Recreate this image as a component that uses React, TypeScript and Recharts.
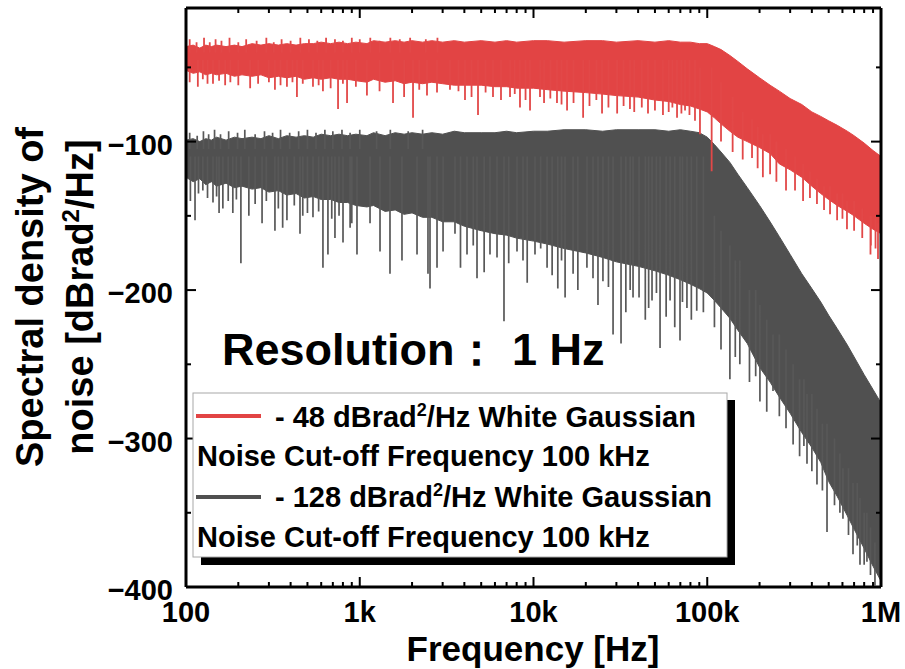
import React from 'react';
import { ComposedChart, Area, Line, XAxis, YAxis } from 'recharts';

const FONT = '"Liberation Sans", Arial, Helvetica, sans-serif';
const RED = '#E24444';
const GRAY = '#505050';

// Frequencies (Hz) at which the band envelopes were read
const bandFreq = [
  100, 110, 120, 130, 140, 150, 170, 190, 210, 240, 270, 300, 340, 380, 430, 480, 540, 600, 680, 760, 850, 950,
  1100, 1200, 1400, 1600, 1800, 2000, 2300, 2600, 3000, 3500, 4000, 5000, 6000, 7000, 8000, 10000, 12000, 15000,
  20000, 25000, 30000, 40000, 50000, 60000, 70000, 80000, 90000, 100000, 110000, 120000, 135000, 150000, 170000,
  200000, 230000, 260000, 300000, 350000, 400000, 450000, 500000, 560000, 640000, 700000, 800000, 900000, 1000000,
];

// -48 dBrad^2/Hz series: upper edge and lower edge of the dense band
const redTop = [
  -36, -35, -37, -35, -36, -35, -36, -35, -36, -34, -35, -34, -35, -34, -35, -34, -34, -33, -34, -33, -34, -33,
  -34, -32, -33, -32, -33, -32, -33, -32, -33, -32, -33, -32, -33, -32, -33, -32, -32, -33, -32, -32, -33, -32,
  -33, -32, -33, -33, -34,
  -34, -36, -38, -42, -46, -51, -57, -62, -66, -71, -75, -80, -83, -86, -89, -93, -96, -101, -106, -110,
];
const redBottom = [
  -52, -54, -53, -55, -54, -55, -54, -56, -55, -56, -55, -57, -56, -57, -56, -58, -57, -58, -57, -58, -58, -59,
  -60, -58, -60, -59, -61, -60, -61, -60, -61, -62, -62, -62, -63, -63, -64, -64, -65, -66, -67, -68, -69, -70,
  -72, -73, -75, -76, -78,
  -80, -84, -88, -93, -97, -100, -104, -108, -115, -119, -124, -130, -135, -139, -143, -147, -150, -155, -159, -162,
];

// -128 dBrad^2/Hz series: upper edge and lower edge of the dense band
const grayTop = [
  -99, -98, -100, -98, -99, -97, -99, -97, -98, -97, -98, -96, -98, -96, -97, -96, -97, -95, -96, -95, -96, -95,
  -96, -94, -96, -94, -95, -94, -95, -94, -95, -93, -94, -94, -94, -93, -94, -93, -93, -92, -92, -93, -92, -92,
  -92, -93, -92, -93, -94,
  -97, -102, -107, -114, -122, -131, -143, -154, -164, -176, -189, -199, -208, -217, -226, -237, -245, -257, -267,
  -276,
];
const grayBottom = [
  -124, -127, -125, -129, -127, -130, -128, -131, -130, -132, -131, -134, -133, -136, -135, -138, -137, -139, -139,
  -141, -141, -143,
  -144, -143, -147, -146, -149, -148, -151, -151, -154, -154, -157, -160, -162, -163, -165, -167, -169, -172, -175,
  -178, -181, -184, -187, -190, -193, -196, -199,
  -202, -207, -212, -219, -227, -236, -252, -262, -272, -283, -296, -306, -316, -329, -339, -352, -361, -374, -386,
  -396,
];

// Spikes: [frequency, value inside band, spike tip]
const redSpikes = [
  // upward peaks at low frequency
  [105, -40, -31], [115, -40, -33], [127, -40, -30], [137, -40, -33], [148, -40, -31], [160, -40, -32],
  [178, -40, -30], [200, -40, -33], [222, -40, -31], [255, -40, -32], [290, -40, -30], [320, -40, -33],
  [355, -40, -31], [400, -40, -32], [455, -40, -30], [510, -40, -31], [570, -40, -32], [640, -40, -30],
  [720, -40, -31], [800, -40, -32], [900, -40, -30], [1000, -40, -31], [1150, -40, -30], [1300, -40, -32],
  [1500, -40, -30], [1700, -40, -31], [1950, -40, -30], [2400, -40, -31], [2800, -40, -30],
  // downward spikes
  [105, -45, -60], [117, -45, -63], [125, -45, -58], [133, -45, -61], [143, -45, -61], [155, -45, -59],
  [168, -45, -62], [180, -45, -60], [200, -45, -62], [234, -45, -64], [260, -45, -61], [300, -45, -60],
  [325, -45, -65], [350, -45, -62], [381, -45, -63], [410, -45, -60], [435, -45, -70], [470, -45, -61],
  [538, -45, -63], [580, -45, -62], [614, -45, -66], [680, -45, -64], [750, -45, -78], [800, -45, -61],
  [845, -45, -74], [950, -45, -63], [1100, -45, -69],
  [1300, -45, -66], [1554, -45, -74], [1800, -45, -70], [2026, -45, -84], [2200, -45, -65], [2438, -45, -69],
  [2784, -45, -67], [3306, -45, -65], [3700, -45, -66], [4034, -45, -72], [4400, -45, -70], [4793, -45, -82],
  [5300, -45, -67], [5846, -45, -70], [6500, -45, -72], [7326, -45, -70], [7800, -45, -68], [8360, -45, -77],
  [9000, -45, -72], [9550, -45, -79], [10900, -45, -70], [11500, -45, -74], [12500, -45, -71], [13650, -45, -74],
  [14500, -45, -75], [15600, -45, -79], [17000, -45, -74], [19300, -45, -84], [21000, -45, -76], [23000, -45, -72],
  [24800, -45, -81], [27000, -45, -77], [30300, -45, -81], [33000, -45, -76], [35900, -45, -78], [38000, -45, -80],
  [42000, -45, -77], [45600, -45, -81], [50000, -45, -79], [55600, -45, -82], [60000, -45, -80], [63000, -45, -77],
  [67000, -45, -84], [71000, -45, -81], [74500, -45, -79], [79000, -45, -82], [85000, -45, -86], [90800, -50, -95],
  [106000, -50, -120], [120000, -60, -100], [140000, -70, -107], [160000, -80, -112], [181000, -85, -111],
  [195000, -90, -118], [209000, -95, -124], [230000, -95, -122], [250000, -100, -127], [284000, -105, -133],
  [320000, -110, -133], [356000, -115, -140], [390000, -120, -138], [428000, -125, -142], [470000, -130, -146],
  [509000, -130, -149], [559000, -135, -153], [600000, -135, -152], [637000, -140, -159], [700000, -140, -160],
  [780000, -145, -165], [870000, -150, -176], [875000, -150, -170], [930000, -150, -172], [961000, -155, -179],
];
const graySpikes = [
  // upward peaks at low frequency
  [105, -105, -94], [116, -105, -96], [126, -105, -93], [135, -105, -95], [146, -105, -92], [158, -105, -95],
  [176, -105, -93], [198, -105, -94], [218, -105, -92], [250, -105, -95], [283, -105, -93], [315, -105, -94],
  [350, -105, -92], [395, -105, -94], [445, -105, -93], [500, -105, -92], [560, -105, -94], [630, -105, -92],
  [700, -105, -93], [790, -105, -92], [880, -105, -94], [1000, -105, -92], [1250, -105, -93], [1500, -105, -92],
  [1900, -105, -93], [2300, -105, -92],
  // downward spikes
  [106, -110, -140], [112.7, -110, -153], [118, -110, -135], [125, -110, -133], [133, -110, -138], [143, -110, -141],
  [150, -110, -137], [155, -110, -148], [163, -110, -145], [175, -110, -140], [186, -110, -148], [195, -110, -139],
  [207, -110, -182], [230, -110, -150], [250, -110, -142], [274, -110, -155], [290, -110, -140], [325, -110, -160],
  [340, -110, -145], [360, -110, -158], [381, -110, -153], [420, -110, -143], [453, -110, -162], [470, -110, -150],
  [500, -110, -148], [538, -110, -151], [580, -110, -147], [614, -110, -185], [656, -110, -176], [690, -110, -152],
  [720, -110, -165], [760, -110, -150], [801, -110, -168], [880, -110, -158], [900, -110, -155], [964, -110, -176],
  [1146, -110, -155], [1308, -110, -174], [1493, -110, -189],
  [1750, -110, -180], [2136, -110, -176], [2470, -110, -189], [2537, -110, -199], [2784, -110, -185], [3016, -110, -174],
  [3533, -110, -162], [3800, -110, -185], [4143, -110, -176], [4500, -110, -170], [4730, -110, -192], [5200, -110, -188],
  [5618, -110, -176], [6166, -110, -178], [6763, -110, -221], [7200, -110, -182], [8036, -110, -174], [8700, -110, -180],
  [9200, -110, -195], [10200, -110, -176], [11000, -110, -172], [11970, -110, -185], [12800, -110, -190],
  [13800, -110, -199], [14500, -110, -180], [15200, -110, -205], [16900, -110, -189], [18000, -110, -200],
  [20300, -110, -185], [22000, -110, -192], [23500, -110, -210], [25100, -110, -194], [27000, -110, -198],
  [28700, -110, -230], [31900, -110, -236], [34000, -110, -215], [36000, -110, -200], [37400, -110, -205],
  [40500, -110, -205], [44000, -110, -220], [46000, -110, -212], [48100, -110, -207], [51000, -110, -202],
  [53500, -110, -239], [58000, -110, -218], [61100, -110, -207], [65000, -110, -225], [69700, -110, -234],
  [72000, -110, -208], [76400, -110, -212], [81000, -110, -220], [87000, -110, -214], [95000, -110, -215],
  [110000, -150, -225], [120000, -160, -240], [135000, -170, -260], [145000, -180, -245], [154000, -180, -250],
  [175000, -200, -262], [190000, -200, -258], [201000, -210, -275], [220000, -220, -282], [239000, -230, -268],
  [260000, -230, -285], [284000, -240, -293], [312000, -250, -304], [340000, -260, -312], [360000, -260, -305],
  [375000, -270, -317], [400000, -270, -322], [428000, -280, -331], [460000, -290, -335], [489000, -290, -363],
  [540000, -300, -345], [580000, -310, -350], [604000, -320, -354], [650000, -320, -365], [690000, -330, -378],
  [730000, -330, -372], [757000, -340, -385], [800000, -350, -385], [830000, -350, -383], [870000, -360, -392],
  [923000, -370, -399],
];

// Axis ticks
const xMajorTicks = [100, 1000, 10000, 100000, 1000000];
const xTickLabels = ['100', '1k', '10k', '100k', '1M'];
const xMinorTicks = [
  200, 300, 400, 500, 600, 700, 800, 900,
  2000, 3000, 4000, 5000, 6000, 7000, 8000, 9000,
  20000, 30000, 40000, 50000, 60000, 70000, 80000, 90000,
  200000, 300000, 400000, 500000, 600000, 700000, 800000, 900000,
];
const yMajorTicks = [-400, -300, -200, -100];
const yTickLabels = ['\u2212400', '\u2212300', '\u2212200', '\u2212100'];
const yMinorTicks = [-350, -250, -150, -50];

const redBand = bandFreq.map((f, i) => ({ f, lo: redBottom[i], hi: redTop[i] }));
const grayBand = bandFreq.map((f, i) => ({ f, lo: grayBottom[i], hi: grayTop[i] }));
const toSegments = (sp: number[][]) =>
  sp.flatMap(([f, base, tip]) => [
    { f, v: base },
    { f, v: tip },
    { f, v: null },
  ]);
const redSpikeRows = toSegments(redSpikes);
const graySpikeRows = toSegments(graySpikes);
const allXTicks = [...xMajorTicks, ...xMinorTicks].sort((a, b) => a - b);
const allYTicks = [...yMajorTicks, ...yMinorTicks].sort((a, b) => a - b);

const MAJOR = 10;
const MINOR = 5;

const BottomTick = (props: any) => {
  const { x, y, payload } = props;
  const i = xMajorTicks.indexOf(payload.value);
  const major = i >= 0;
  return (
    <g>
      <line x1={x} x2={x} y1={y} y2={y - (major ? MAJOR : MINOR)} stroke="#000" strokeWidth={2} />
      {major && (
        <text x={x} y={y + 35} textAnchor="middle" fontFamily={FONT} fontWeight="bold" fontSize={29} fill="#000">
          {xTickLabels[i]}
        </text>
      )}
    </g>
  );
};

const TopTick = (props: any) => {
  const { x, y, payload } = props;
  const major = xMajorTicks.indexOf(payload.value) >= 0;
  return <line x1={x} x2={x} y1={y} y2={y + (major ? MAJOR : MINOR)} stroke="#000" strokeWidth={2} />;
};

const LeftTick = (props: any) => {
  const { x, y, payload } = props;
  const i = yMajorTicks.indexOf(payload.value);
  const major = i >= 0;
  return (
    <g>
      <line x1={x} x2={x + (major ? MAJOR : MINOR)} y1={y} y2={y} stroke="#000" strokeWidth={2} />
      {major && (
        <text x={x - 13} y={y + 13} textAnchor="end" fontFamily={FONT} fontWeight="bold" fontSize={29} fill="#000">
          {yTickLabels[i]}
        </text>
      )}
    </g>
  );
};

const RightTick = (props: any) => {
  const { x, y, payload } = props;
  const major = yMajorTicks.indexOf(payload.value) >= 0;
  return <line x1={x} x2={x - (major ? MAJOR : MINOR)} y1={y} y2={y} stroke="#000" strokeWidth={2} />;
};

const axisLine = { stroke: '#000', strokeWidth: 3 };

export default function App() {
  return (
    <div style={{ position: 'absolute', left: 0, top: 0, width: 905, height: 669, background: '#fff' }}>
      <ComposedChart width={905} height={669} margin={{ top: 4, right: 20, bottom: 42, left: 126 }}>
        <XAxis
          xAxisId="b"
          dataKey="f"
          type="number"
          scale="log"
          domain={[100, 1000000]}
          allowDataOverflow
          ticks={allXTicks}
          interval={0}
          tickSize={0}
          tickMargin={0}
          tickLine={false}
          tick={<BottomTick />}
          axisLine={axisLine}
          height={40}
          orientation="bottom"
        />
        <XAxis
          xAxisId="t"
          dataKey="f"
          type="number"
          scale="log"
          domain={[100, 1000000]}
          allowDataOverflow
          ticks={allXTicks}
          interval={0}
          tickSize={0}
          tickMargin={0}
          tickLine={false}
          tick={<TopTick />}
          axisLine={axisLine}
          height={4}
          orientation="top"
        />
        <YAxis
          yAxisId="l"
          type="number"
          domain={[-400, -10]}
          allowDataOverflow
          ticks={allYTicks}
          interval={0}
          tickSize={0}
          tickMargin={0}
          tickLine={false}
          tick={<LeftTick />}
          axisLine={axisLine}
          width={60}
          orientation="left"
        />
        <YAxis
          yAxisId="r"
          type="number"
          domain={[-400, -10]}
          allowDataOverflow
          ticks={allYTicks}
          interval={0}
          tickSize={0}
          tickMargin={0}
          tickLine={false}
          tick={<RightTick />}
          axisLine={axisLine}
          width={4}
          orientation="right"
        />
        <Area
          xAxisId="b"
          yAxisId="l"
          data={grayBand}
          dataKey={(d: any) => [d.lo, d.hi]}
          type="linear"
          stroke={GRAY}
          strokeWidth={1}
          fill={GRAY}
          fillOpacity={1}
          isAnimationActive={false}
          dot={false}
          activeDot={false}
        />
        <Line
          xAxisId="b"
          yAxisId="l"
          data={graySpikeRows}
          dataKey="v"
          type="linear"
          stroke="#585858"
          strokeWidth={1.7}
          dot={false}
          activeDot={false}
          connectNulls={false}
          isAnimationActive={false}
        />
        <Area
          xAxisId="b"
          yAxisId="l"
          data={redBand}
          dataKey={(d: any) => [d.lo, d.hi]}
          type="linear"
          stroke={RED}
          strokeWidth={1}
          fill={RED}
          fillOpacity={1}
          isAnimationActive={false}
          dot={false}
          activeDot={false}
        />
        <Line
          xAxisId="b"
          yAxisId="l"
          data={redSpikeRows}
          dataKey="v"
          type="linear"
          stroke="#E24848"
          strokeWidth={1.8}
          dot={false}
          activeDot={false}
          connectNulls={false}
          isAnimationActive={false}
        />
      </ComposedChart>
      <svg
        width={905}
        height={669}
        style={{ position: 'absolute', left: 0, top: 0, pointerEvents: 'none' }}
        fontFamily={FONT}
        fontWeight="bold"
        fill="#000"
      >
        <text transform="translate(43,297) rotate(-90)" textAnchor="middle" fontSize={38}>
          Spectral density of
        </text>
        <text transform="translate(93,297) rotate(-90)" textAnchor="middle" fontSize={38}>
          noise [dBrad
          <tspan dy={-14} fontSize={24}>2</tspan>
          <tspan dy={14}>/Hz]</tspan>
        </text>
        <text x={533} y={661} textAnchor="middle" fontSize={35}>
          Frequency [Hz]
        </text>
        <text x={222} y={365} fontSize={45}>
          Resolution： 1 Hz
        </text>
        <rect x={201} y={400} width={534} height={165} fill="#000" />
        <rect x={193} y={393} width={534} height={164} fill="#fff" stroke="#a8a8a8" strokeWidth={1} />
        <line x1={196} x2={261} y1={416} y2={416} stroke={RED} strokeWidth={4} />
        <text x={275} y={427} fontSize={29}>
          - 48 dBrad
          <tspan dy={-11} fontSize={18}>2</tspan>
          <tspan dy={11}>/Hz White Gaussian</tspan>
        </text>
        <text x={197} y={466} fontSize={29}>
          Noise Cut-off Frequency 100 kHz
        </text>
        <line x1={196} x2={261} y1={497} y2={497} stroke={GRAY} strokeWidth={4} />
        <text x={275} y={507} fontSize={29}>
          - 128 dBrad
          <tspan dy={-11} fontSize={18}>2</tspan>
          <tspan dy={11}>/Hz White Gaussian</tspan>
        </text>
        <text x={197} y={547} fontSize={29}>
          Noise Cut-off Frequency 100 kHz
        </text>
      </svg>
    </div>
  );
}
